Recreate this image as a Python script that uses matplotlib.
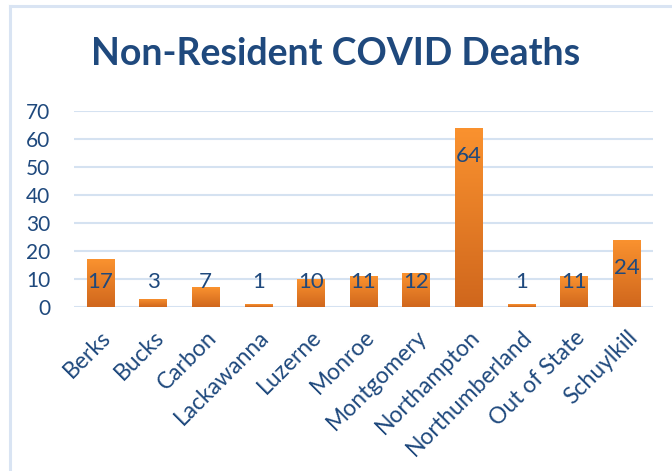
import numpy as np
import matplotlib.pyplot as plt
from matplotlib.lines import Line2D

counties = ["Berks", "Bucks", "Carbon", "Lackawanna", "Luzerne", "Monroe",
            "Montgomery", "Northampton", "Northumberland", "Out of State", "Schuylkill"]
deaths = [17, 3, 7, 1, 10, 11, 12, 64, 1, 11, 24]
yticks = [0, 10, 20, 30, 40, 50, 60, 70]

navy = "#1f497d"
grid_c = "#d5e2f1"

plt.rcParams["font.family"] = ["Lato", "DejaVu Sans"]

fig = plt.figure(figsize=(6.72, 4.71), dpi=100)
ax = fig.add_axes([74 / 672, 1 - 307 / 471, (653 - 74) / 672, (307 - 111) / 471])

x = np.arange(len(counties))
bars = ax.bar(x, deaths, width=0.52, color="#ee8424", zorder=3)

# vertical orange gradient in each bar
grad = np.linspace(0, 1, 100).reshape(-1, 1)
cmap = plt.matplotlib.colors.LinearSegmentedColormap.from_list("o", ["#d0671d", "#fa922f"])
for b in bars:
    x0, y0 = b.get_x(), b.get_y()
    im = ax.imshow(grad, cmap=cmap, origin="lower", aspect="auto", zorder=4,
                   extent=[x0, x0 + b.get_width(), y0, y0 + b.get_height()])
    im.set_clip_path(b)

for xi, v in zip(x, deaths):
    ax.text(xi, max(v - 10, 8.9), str(v), ha="center", va="center",
            fontsize=16, color=navy, zorder=6)

ax.set_xlim(-0.5, len(counties) - 0.5)
ax.set_ylim(0, 70)
ax.set_yticks(yticks)
ax.yaxis.grid(True, color=grid_c, linewidth=1.5, zorder=0)
ax.set_axisbelow(True)
for s in ax.spines.values():
    s.set_visible(False)
ax.tick_params(length=0)
ax.tick_params(axis="y", labelsize=15, labelcolor=navy, pad=17)
ax.set_xticks(x)
ax.set_xticklabels(counties, rotation=45, ha="right", rotation_mode="anchor",
                   fontsize=16.5, color=navy)
ax.tick_params(axis="x", pad=14)
ax.set_facecolor("none")

fig.text(0.5, 1 - 54 / 471, "Non-Resident COVID Deaths", ha="center", va="center",
         fontsize=27, fontweight="bold", color=navy)

# light blue frame of the chart (top and left edges)
fig.add_artist(Line2D([9.5 / 672, 1], [1 - 5.5 / 471] * 2, color="#d9e4f3", linewidth=2.2,
                      transform=fig.transFigure))
fig.add_artist(Line2D([9.5 / 672] * 2, [0, 1 - 5.5 / 471], color="#d9e4f3", linewidth=2.2,
                      transform=fig.transFigure))

fig.savefig("out.png", dpi=100)
